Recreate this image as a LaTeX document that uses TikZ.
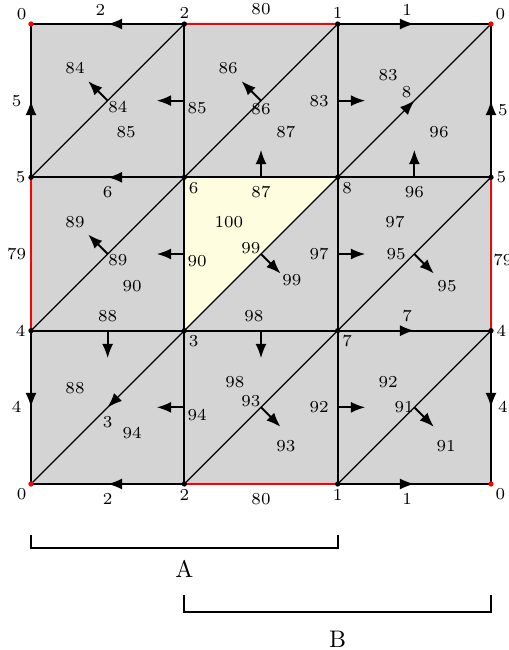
\documentclass[tikz,border=0pt]{standalone}
\usetikzlibrary{arrows.meta,decorations.markings}

\tikzset{
  >={Latex[length=6pt,width=4.6pt]},
  gridline/.style={line width=0.8pt},
  rededge/.style={line width=0.8pt, red},
  diagline/.style={line width=0.5pt},
  midarrow/.style={postaction={decorate},
    decoration={markings, mark=at position 0.5 with {\arrow{>}}}},
  normarrow/.style={->, line width=0.8pt},
  vdot/.style={circle, fill=black, inner sep=0pt, minimum size=2.2pt},
  reddot/.style={vdot, fill=red},
  vlab/.style={font=\scriptsize, inner sep=0.8pt},
  elab/.style={font=\scriptsize, text=black},
  tlab/.style={font=\scriptsize},
  bracket/.style={line width=0.8pt},
}

\begin{document}
\begin{tikzpicture}[x=2.25cm, y=2.25cm]
  \useasboundingbox (-0.2022,-1.0826) rectangle (3.111,3.1566);

  % grid points
  \foreach \i in {0,...,3}
    \foreach \j in {0,...,3}
      \coordinate (v\i\j) at (\i,\j);

  % faces
  \fill[black!17] (v00) rectangle (v33);
  \fill[yellow!12] (v11) -- (v12) -- (v22) -- cycle;

  % outer edges
  \draw[gridline, midarrow] (v13) -- node[elab, above, xshift=-3pt] (e1) {2} (v03);
  \draw[rededge] (v13) -- node[elab, above] (e2) {80} (v23);
  \draw[gridline, midarrow] (v23) -- node[elab, above, xshift=-3pt] (e3) {1} (v33);
  \draw[gridline, midarrow] (v10) -- node[elab, below] (e4) {2} (v00);
  \draw[rededge] (v10) -- node[elab, below] (e5) {80} (v20);
  \draw[gridline, midarrow] (v20) -- node[elab, below, xshift=-3pt] (e6) {1} (v30);
  \draw[gridline, midarrow] (v02) -- node[elab, xshift=-6pt] (e7) {5} (v03);
  \draw[rededge] (v01) -- node[elab, xshift=-6pt] (e8) {79} (v02);
  \draw[gridline, midarrow] (v01) -- node[elab, xshift=-6pt] (e9) {4} (v00);
  \draw[gridline, midarrow] (v32) -- node[elab, xshift=5pt, yshift=-4pt] (e10) {5} (v33);
  \draw[rededge] (v31) -- node[elab, xshift=5pt, yshift=-2.5pt] (e11) {79} (v32);
  \draw[gridline, midarrow] (v31) -- node[elab, xshift=5pt] (e12) {4} (v30);

  % inner edges
  \draw[gridline, midarrow] (v12) -- node[elab, below] (e13) {6} (v02);
  \draw[gridline] (v12) -- node[elab, below] (e14) {87} coordinate (m87) (v22);
  \draw[gridline] (v22) -- node[elab, below] (e15) {96} coordinate (m96) (v32);
  \draw[gridline] (v01) -- node[elab, above] (e16) {88} coordinate (m88) (v11);
  \draw[gridline] (v11) -- node[elab, above, xshift=-3pt] (e17) {98} coordinate (m98) (v21);
  \draw[gridline, midarrow] (v21) -- node[elab, above, xshift=-3pt] (e18) {7} (v31);
  \draw[gridline] (v12) -- node[elab, right, inner sep=1pt, yshift=-3pt] (e19) {85} coordinate (m85) (v13);
  \draw[gridline] (v11) -- node[elab, right, inner sep=1pt, yshift=-3pt] (e20) {90} coordinate (m90) (v12);
  \draw[gridline] (v10) -- node[elab, right, inner sep=1pt, yshift=-3pt] (e21) {94} coordinate (m94) (v11);
  \draw[gridline] (v22) -- node[elab, left] (e22) {83} coordinate (m83) (v23);
  \draw[gridline] (v21) -- node[elab, left] (e23) {97} coordinate (m97) (v22);
  \draw[gridline] (v20) -- node[elab, left] (e24) {92} coordinate (m92) (v21);

  % diagonals
  \draw[diagline] (v02) -- node[elab, below right, inner sep=0pt] (d1) {84} coordinate (m84) (v13);
  \draw[diagline] (v12) -- node[elab, below, inner sep=1pt] (d2) {86} coordinate (m86) (v23);
  \draw[diagline, midarrow] (v22) -- node[elab, above left, inner sep=1pt] (d3) {8} (v33);
  \draw[diagline] (v01) -- node[elab, below right, inner sep=0pt] (d4) {89} coordinate (m89) (v12);
  \draw[diagline] (v11) -- node[elab, above left, inner sep=0pt] (d5) {99} coordinate (m99) (v22);
  \draw[diagline] (v21) -- node[elab, left] (d6) {95} coordinate (m95) (v32);
  \draw[diagline, midarrow] (v11) -- node[elab, below] (d7) {3} (v00);
  \draw[diagline] (v10) -- node[elab, above left, inner sep=0pt] (d8) {93} coordinate (m93) (v21);
  \draw[diagline] (v20) -- node[elab, left, inner sep=0pt] (d9) {91} coordinate (m91) (v31);

  % normals
  \draw[normarrow] (m87) -- ++(0,0.18);
  \draw[normarrow] (m96) -- ++(0,0.18);
  \draw[normarrow] (m88) -- ++(0,-0.18);
  \draw[normarrow] (m98) -- ++(0,-0.18);
  \draw[normarrow] (m85) -- ++(-0.18,0);
  \draw[normarrow] (m90) -- ++(-0.18,0);
  \draw[normarrow] (m94) -- ++(-0.18,0);
  \draw[normarrow] (m83) -- ++(0.18,0);
  \draw[normarrow] (m97) -- ++(0.18,0);
  \draw[normarrow] (m92) -- ++(0.18,0);
  \draw[normarrow] (m84) -- ++(135:0.18);
  \draw[normarrow] (m86) -- ++(135:0.18);
  \draw[normarrow] (m89) -- ++(135:0.18);
  \draw[normarrow] (m99) -- ++(-45:0.18);
  \draw[normarrow] (m95) -- ++(-45:0.18);
  \draw[normarrow] (m93) -- ++(-45:0.18);
  \draw[normarrow] (m91) -- ++(-45:0.18);

  % vertices
  \node[reddot, label={[vlab]above left:0}] (p03) at (v03) {};
  \node[vdot, label={[vlab]above:2}] (p13) at (v13) {};
  \node[vdot, label={[vlab]above:1}] (p23) at (v23) {};
  \node[reddot, label={[vlab]above right:0}] (p33) at (v33) {};
  \node[vdot, label={[vlab]left:5}] (p02) at (v02) {};
  \node[vdot, label={[vlab]below right:6}] (p12) at (v12) {};
  \node[vdot, label={[vlab]below right:8}] (p22) at (v22) {};
  \node[vdot, label={[vlab]right:5}] (p32) at (v32) {};
  \node[vdot, label={[vlab]left:4}] (p01) at (v01) {};
  \node[vdot, label={[vlab]below right:3}] (p11) at (v11) {};
  \node[vdot, label={[vlab]below right:7}] (p21) at (v21) {};
  \node[vdot, label={[vlab]right:4}] (p31) at (v31) {};
  \node[reddot, label={[vlab]below left:0}] (p00) at (v00) {};
  \node[vdot, label={[vlab]below:2}] (p10) at (v10) {};
  \node[vdot, label={[vlab]below:1}] (p20) at (v20) {};
  \node[reddot, label={[vlab]below right:0}] (p30) at (v30) {};

  % triangles
  \node[tlab] (t84) at (0.287,2.713) {84};
  \node[tlab] (t85) at (0.620,2.296) {85};
  \node[tlab] (t86) at (1.285,2.713) {86};
  \node[tlab] (t87) at (1.663,2.296) {87};
  \node[tlab] (t83) at (2.329,2.667) {83};
  \node[tlab] (t96) at (2.661,2.296) {96};
  \node[tlab] (t89) at (0.287,1.709) {89};
  \node[tlab] (t90) at (0.659,1.291) {90};
  \node[tlab] (t100) at (1.291,1.709) {100};
  \node[tlab] (t99) at (1.702,1.330) {99};
  \node[tlab] (t97) at (2.374,1.709) {97};
  \node[tlab] (t95) at (2.713,1.291) {95};
  \node[tlab] (t88) at (0.287,0.626) {88};
  \node[tlab] (t94) at (0.659,0.333) {94};
  \node[tlab] (t98) at (1.330,0.665) {98};
  \node[tlab] (t93) at (1.663,0.248) {93};
  \node[tlab] (t92) at (2.329,0.665) {92};
  \node[tlab] (t91) at (2.707,0.248) {91};

  % brackets
  \draw[bracket] (0,-0.333) -- (0,-0.417) -- (2,-0.417) -- (2,-0.333);
  \node (labA) at (1,-0.554) {A};
  \draw[bracket] (1,-0.724) -- (1,-0.835) -- (3,-0.835) -- (3,-0.724);
  \node (labB) at (2,-1.011) {B};
\end{tikzpicture}
\end{document}
